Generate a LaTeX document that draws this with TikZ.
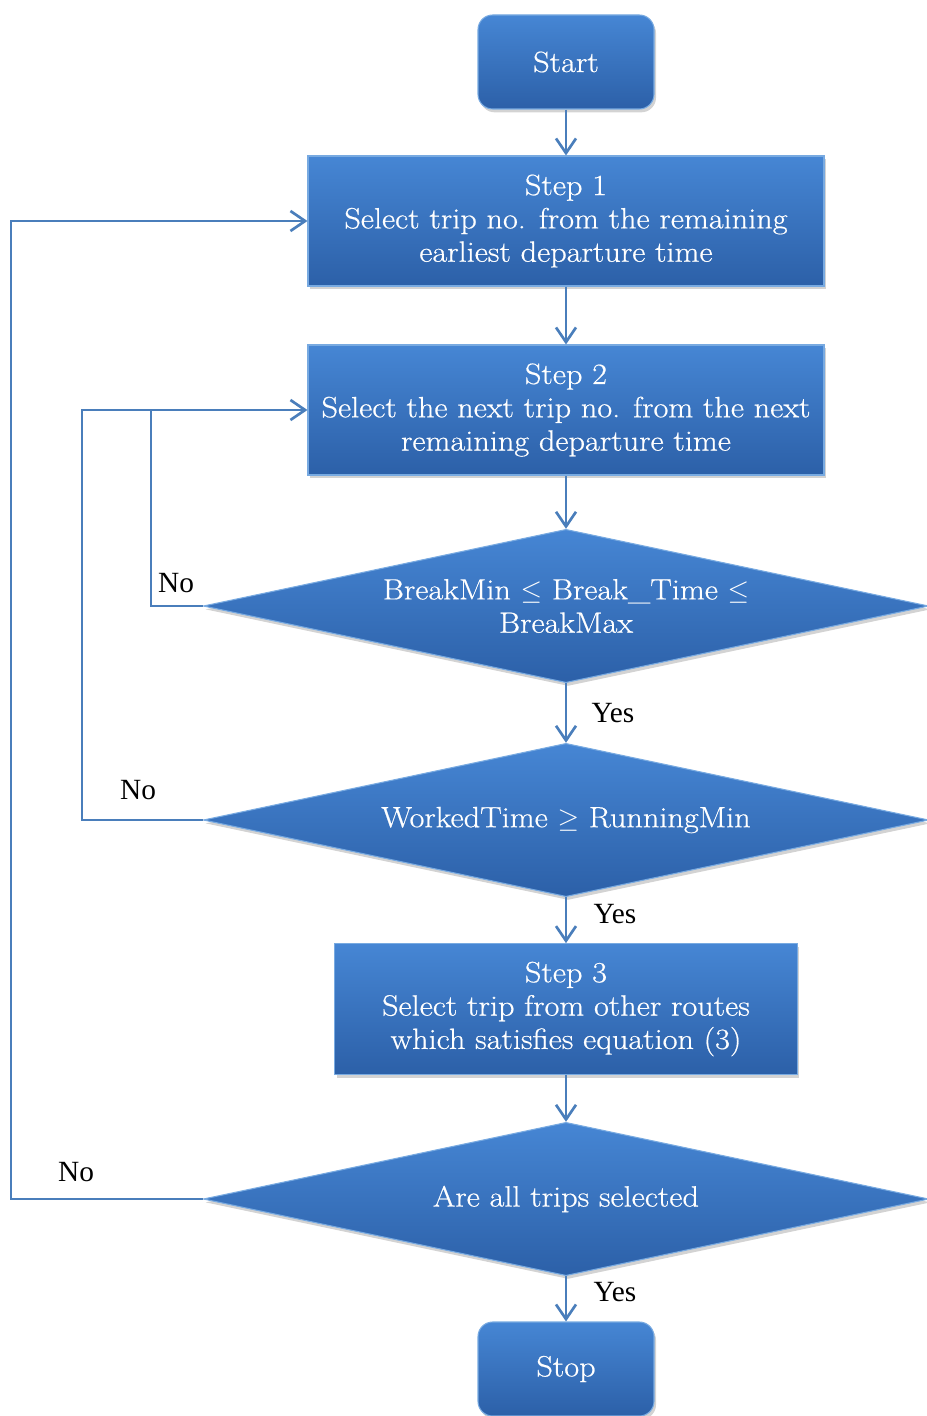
\documentclass[tikz,border=0pt]{standalone}
\usepackage{fontspec}
\setmainfont{Latin Modern Roman}[FakeStretch=1.1]
\newfontfamily\boxfont{Latin Modern Roman}[FakeStretch=1.1,FakeBold=0.6]
\newfontfamily\lab{Liberation Serif}
\usetikzlibrary{shapes.geometric,arrows.meta,shadows}
\definecolor{lineblue}{RGB}{74,126,187}
\definecolor{topblue}{RGB}{70,134,212}
\definecolor{botblue}{RGB}{44,96,168}
\definecolor{edgeblue}{RGB}{120,170,225}
\tikzset{
 box/.style={draw=edgeblue, line width=0.8pt, top color=topblue, bottom color=botblue, text=white, align=center, font=\boxfont\fontsize{22}{25}\selectfont, inner sep=0pt, drop shadow={shadow xshift=1.5pt, shadow yshift=-2.5pt, opacity=0.35}},
 rbox/.style={box, rounded corners=11pt, minimum width=132pt, minimum height=70.5pt},
 dbox/.style={box, diamond, shape aspect=4.7, minimum width=544pt, minimum height=115pt},
 conn/.style={draw=lineblue, line width=2pt, -{Straight Barb[length=11pt,width=15pt,line width=2pt]}},
 plain/.style={draw=lineblue, line width=2pt},
 lbl/.style={font=\lab\fontsize{22}{24}\selectfont, inner sep=0pt}
}
\begin{document}
\begin{tikzpicture}[x=0.75pt,y=-0.75pt]
\useasboundingbox (0,0) rectangle (927,1416);
\node[rbox] (start) at (566,62) {Start};
\node[box, minimum width=387pt, minimum height=97.5pt] (s1) at (566,221) {Step 1\\Select trip no. from the remaining\\earliest departure time};
\node[box, minimum width=387pt, minimum height=97.5pt] (s2) at (566,410) {Step 2\\Select the next trip no. from the next\\remaining departure time};
\node[dbox] (d1) at (566,606) {BreakMin $\leq$ Break\_Time $\leq$\\BreakMax};
\node[dbox] (d2) at (566,820) {WorkedTime $\geq$ RunningMin};
\node[box, minimum width=347pt, minimum height=98pt] (s3) at (566,1009) {Step 3\\Select trip from other routes\\which satisfies equation (3)};
\node[dbox] (d3) at (566,1199) {Are all trips selected};
\node[rbox] (stop) at (566,1369) {Stop};

\draw[conn] (start) -- (s1);
\draw[conn] (s1) -- (s2);
\draw[conn] (s2) -- (d1);
\draw[conn] (d1) -- (d2);
\draw[conn] (d2) -- (s3);
\draw[conn] (s3) -- (d3);
\draw[conn] (d3) -- (stop);

\coordinate (l1) at (151,606);
\coordinate (l2) at (82,820);
\coordinate (l3) at (11,1199);
\draw[conn] (d3.west) -- (l3) |- (s1.west);
\draw[conn] (d2.west) -- (l2) |- (s2.west);
\draw[plain] (d1.west) -- (l1) -- (l1 |- s2.west);

\node[lbl] (n1) at (176,583) {No};
\node[lbl] (n2) at (138,790) {No};
\node[lbl] (n3) at (76,1172) {No};
\node[lbl] (y1) at (613,713) {Yes};
\node[lbl] (y2) at (615,914) {Yes};
\node[lbl] (y3) at (615,1292) {Yes};
\end{tikzpicture}
\end{document}
